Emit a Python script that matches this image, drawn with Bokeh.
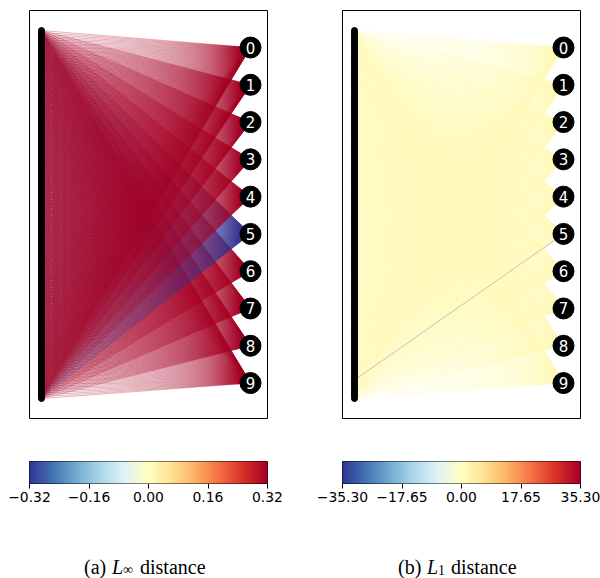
import numpy as np
from bokeh.plotting import figure
from bokeh.models import (Range1d, LinearColorMapper, ColorBar, FixedTicker,
                          CustomJSTickFormatter, ColumnDataSource)
from bokeh.layouts import row, column
from bokeh.core.properties import value
from bokeh.embed import file_html
from bokeh.resources import INLINE

# ---------------- data ----------------
N_IN = 200
OUT_LABELS = ["0", "1", "2", "3", "4", "5", "6", "7", "8", "9"]

EPS_INF = 0.32
TICKS_INF = [-0.32, -0.16, 0.00, 0.16, 0.32]
EPS_L1 = 35.30
TICKS_L1 = [-35.30, -17.65, 0.00, 17.65, 35.30]

# L-inf panel: usual sign of the links into each output (+1 -> +eps, -1 -> -eps)
SIGN_INF = [1, 1, 1, 1, 1, -1, 1, 1, 1, 1]
# inputs whose link into an output has the opposite sign
FLIPPED_INF = {5: [14, 37, 58, 83, 126, 153, 177]}

# L1 panel: value per output (row) for each block of 20 consecutive inputs (column)
W_L1 = [
    [0.9, 0.7, 0.5, 0.6, 0.4, 0.5, 0.3, 0.4, 0.6, 0.5],
    [0.6, 0.8, 0.5, 0.4, 0.6, 0.3, 0.5, 0.4, 0.3, 0.5],
    [0.5, 0.4, 0.7, 0.6, 0.5, 0.4, 0.6, 0.3, 0.5, 0.4],
    [0.4, 0.6, 0.5, 0.8, 0.6, 0.5, 0.4, 0.5, 0.3, 0.4],
    [0.5, 0.3, 0.6, 0.5, 0.7, 0.6, 0.5, 0.4, 0.6, 0.3],
    [0.3, 0.5, 0.4, 0.6, 0.5, 0.7, 0.5, 0.6, 0.4, 0.5],
    [0.4, 0.5, 0.3, 0.4, 0.6, 0.5, 0.8, 0.5, 0.6, 0.4],
    [0.5, 0.4, 0.5, 0.3, 0.5, 0.6, 0.5, 0.7, 0.5, 0.6],
    [0.3, 0.5, 0.4, 0.5, 0.4, 0.5, 0.6, 0.5, 0.8, 0.6],
    [0.4, 0.3, 0.5, 0.4, 0.5, 0.4, 0.5, 0.6, 0.7, 0.9],
]
L1_MISSING = [(189, 5)]  # (input, output) link with no value

CAPTION_A = ["(a)", "L", "\u221e", "distance"]
CAPTION_B = ["(b)", "L", "1", "distance"]

# RdYlBu reversed (blue -> yellow -> red)
ANCHORS = ["#313695", "#4575b4", "#74add1", "#abd9e9", "#e0f3f8", "#ffffbf",
           "#fee090", "#fdae61", "#f46d43", "#d73027", "#a50026"]


def interp_palette(anchors, n=256):
    rgb = np.array([[int(h[i:i + 2], 16) for i in (1, 3, 5)] for h in anchors], float)
    pos = np.linspace(0, 1, len(anchors))
    t = np.linspace(0, 1, n)
    chans = [np.interp(t, pos, rgb[:, c]) for c in range(3)]
    return ["#%02x%02x%02x" % (int(round(r)), int(round(g)), int(round(b)))
            for r, g, b in zip(*chans)]


PAL = interp_palette(ANCHORS)
mapper_inf = LinearColorMapper(palette=PAL, low=-EPS_INF, high=EPS_INF)
mapper_l1 = LinearColorMapper(palette=PAL, low=-EPS_L1, high=EPS_L1)

# ---------------- layout constants ----------------
FRAME_W, FRAME_H = 238, 408
OUT_Y0, OUT_DY = 9.19, 20.16
Y_TOP, Y_BOT = -10.82, 209.8
LINE_ALPHA = 0.3


def out_y(j):
    return OUT_Y0 + OUT_DY * j


def weights_inf():
    w = np.zeros((10, N_IN))
    for j in range(10):
        w[j, :] = SIGN_INF[j] * EPS_INF
        for i in FLIPPED_INF.get(j, []):
            w[j, i] = -w[j, i]
    return w


def weights_l1():
    w = np.zeros((10, N_IN))
    for j in range(10):
        for i in range(N_IN):
            w[j, i] = W_L1[j][i // 20]
    for (i, j) in L1_MISSING:
        w[j, i] = np.nan
    return w


def network_panel(w, mapper, bl, br):
    p = figure(frame_width=FRAME_W, frame_height=FRAME_H,
               min_border_left=bl, min_border_right=br,
               min_border_top=10, min_border_bottom=2,
               x_range=Range1d(-0.0574, 1.0813), y_range=Range1d(Y_BOT, Y_TOP),
               x_axis_location=None, y_axis_location=None,
               toolbar_location=None, output_backend="svg")
    p.xgrid.visible = False
    p.ygrid.visible = False
    p.outline_line_color = "black"
    p.outline_line_width = 1
    xs, ys, ws = [], [], []
    mx, my = [], []
    # drawn input by input
    for i in range(N_IN):
        for j in range(10):
            if np.isnan(w[j, i]):
                mx.append([0, 1]); my.append([i, out_y(j)])
                continue
            xs.append([0, 1]); ys.append([i, out_y(j)]); ws.append(w[j, i])
    src = ColumnDataSource(dict(xs=xs, ys=ys, w=ws))
    p.multi_line(xs="xs", ys="ys", source=src,
                 line_color={"field": "w", "transform": mapper},
                 line_alpha=LINE_ALPHA, line_width=1)
    if mx:
        p.multi_line(xs=mx, ys=my, line_color="#bdbdbd", line_alpha=0.9, line_width=1)
    p.scatter(x=[0] * N_IN, y=list(range(N_IN)), size=6, color="black")
    oy = [out_y(j) for j in range(10)]
    p.scatter(x=[1] * 10, y=oy, size=21, color="black")
    p.text(x=[1] * 10, y=oy, text=OUT_LABELS, text_color="white",
           text_align="center", text_baseline="middle",
           text_font=value("DejaVu Sans"), text_font_size="15px")
    return p


def colorbar_panel(mapper, ticks, bl, br):
    p = figure(frame_width=FRAME_W, frame_height=22,
               min_border_left=bl, min_border_right=br,
               min_border_top=41, min_border_bottom=32,
               x_range=Range1d(ticks[0], ticks[-1]), y_range=Range1d(0, 1),
               y_axis_location=None, toolbar_location=None, output_backend="svg")
    p.xgrid.visible = False
    p.ygrid.visible = False
    p.outline_line_color = "black"
    p.outline_line_width = 1
    cb = ColorBar(color_mapper=mapper, location=(0, 0), width=FRAME_W, height=22,
                  padding=0, margin=0, orientation="horizontal",
                  ticker=FixedTicker(ticks=[]), major_tick_line_color=None,
                  bar_line_color=None, border_line_color=None,
                  background_fill_alpha=0)
    p.add_layout(cb)
    ax = p.xaxis[0]
    ax.ticker = FixedTicker(ticks=ticks, minor_ticks=[])
    ax.formatter = CustomJSTickFormatter(code="return tick.toFixed(2).replace('-', '\u2212');")
    ax.major_tick_out = 5
    ax.major_tick_in = 0
    ax.major_tick_line_color = "black"
    ax.axis_line_color = "black"
    ax.major_label_standoff = 3
    ax.major_label_text_font = "DejaVu Sans"
    ax.major_label_text_font_size = "13.9px"
    ax.major_label_text_color = "black"
    return p


def caption_panel(words, frame_left, bl, br, xpos):
    # frame spans the same page columns as the panel above it (x in page pixels)
    p = figure(frame_width=FRAME_W, frame_height=63,
               min_border_left=bl, min_border_right=br, min_border_top=0, min_border_bottom=0,
               x_range=Range1d(frame_left, frame_left + FRAME_W), y_range=Range1d(578, 515),
               x_axis_location=None, y_axis_location=None,
               toolbar_location=None, output_backend="svg")
    p.outline_line_color = None
    p.xgrid.visible = False
    p.ygrid.visible = False
    base = 566.5
    f = value("Liberation Serif")
    p.text(x=[xpos[0], xpos[3]], y=[base, base], text=[words[0], words[3]],
           text_font=f, text_font_size="20px", text_baseline="alphabetic", text_color="black")
    p.text(x=[xpos[1]], y=[base], text=[words[1]], text_font=f, text_font_style="italic",
           text_font_size="20px", text_baseline="alphabetic", text_color="black")
    p.text(x=[xpos[2]], y=[base + 2.5], text=[words[2]], text_font=f,
           text_font_size="14px", text_baseline="alphabetic", text_color="black")
    return p


wi = weights_inf()
wl = weights_l1()

pa = network_panel(wi, mapper_inf, 29, 33)
pb = network_panel(wl, mapper_l1, 42, 20)
ca = colorbar_panel(mapper_inf, TICKS_INF, 29, 33)
cbp = colorbar_panel(mapper_l1, TICKS_L1, 42, 20)
capa = caption_panel(CAPTION_A, 29, 29, 33, [83.5, 111.5, 122.5, 139.5])
capb = caption_panel(CAPTION_B, 342, 42, 20, [397.5, 426.5, 437.5, 450.5])

layout = row(column(pa, ca, capa), column(pb, cbp, capb))
open("out.html", "w").write(file_html(layout, INLINE))
